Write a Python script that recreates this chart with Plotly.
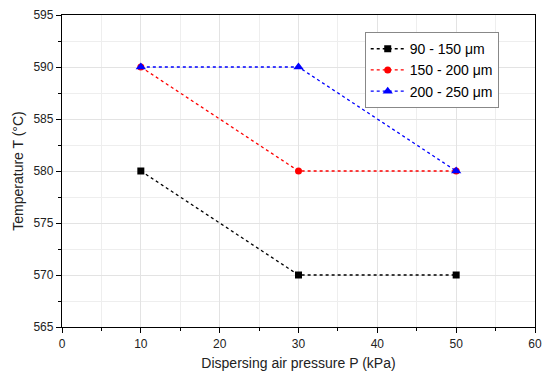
import plotly.graph_objects as go

pressure = [10, 30, 50]
t_90_150 = [580, 570, 570]
t_150_200 = [590, 580, 580]
t_200_250 = [590, 590, 580]
names = ["90 - 150 \u03bcm", "150 - 200 \u03bcm", "200 - 250 \u03bcm"]
colors = ["black", "red", "blue"]
symbols = ["square", "circle", "triangle-up"]
msizes = [7, 7, 9]

fig = go.Figure()
for ys, n, c, s, ms in zip([t_90_150, t_150_200, t_200_250], names, colors, symbols, msizes):
    fig.add_trace(go.Scatter(x=pressure, y=ys, name=n, mode="lines+markers",
                             line=dict(color=c, dash="dot", width=1.3),
                             marker=dict(symbol=s, color=c, size=ms)))

ax = dict(showline=True, linecolor="black", linewidth=1.3, mirror=True,
          ticks="outside", ticklen=5, tickcolor="black", zeroline=False,
          showgrid=True, gridcolor="#e3e3e3", gridwidth=1,
          tickfont=dict(size=12, color="#222"), ticklabeloverflow="allow",
          minor=dict(ticks="outside", ticklen=3, tickcolor="black", showgrid=True, gridcolor="#eeeeee"))

fig.update_xaxes(**ax, range=[0, 60], dtick=10, minor_dtick=5,
                 title=dict(text="Dispersing air pressure P (kPa)", font=dict(size=14, color="#222"), standoff=8))
fig.update_yaxes(**ax, range=[565, 595], dtick=5, minor_dtick=2.5,
                 title=dict(text="Temperature T (\u00b0C)", font=dict(size=14, color="#222"), standoff=6))

fig.update_layout(width=544, height=374, margin=dict(l=62, r=9, t=15, b=47, autoexpand=False),
                  plot_bgcolor="white", paper_bgcolor="white",
                  font=dict(family="Liberation Sans, Arial, sans-serif"),
                  legend=dict(x=0.64, y=0.945, xanchor="left", yanchor="top",
                              bordercolor="#888", borderwidth=1, bgcolor="white",
                              font=dict(size=14, color="black"), tracegroupgap=0, itemwidth=34))
fig.write_html("out.html", config={"displayModeBar": False},
               post_script="document.body.style.margin='0';document.body.style.padding='0';")
